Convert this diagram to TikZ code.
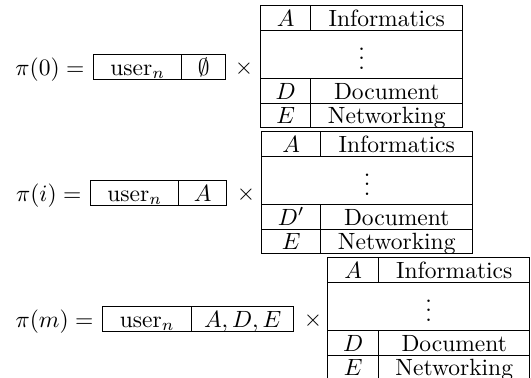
\documentclass[tikz,border=0pt]{standalone}
\newcommand{\pxu}{0.4255}
\newcommand{\proftable}[6]{%
  \pgfmathsetmacro{\tabwa}{(#3-#2)*\pxu}%
  \pgfmathsetmacro{\tabwb}{(#4-#3)*\pxu}%
  \pgfmathsetmacro{\tabwt}{(#4-#2)*\pxu}%
  \node[cell, minimum width=\tabwa pt, minimum height=25*\pxu pt] (#1Ak) at (#2,#5) {$A$};
  \node[cell, minimum width=\tabwb pt, minimum height=25*\pxu pt] (#1Av) at (#3,#5) {Informatics};
  \node[cell, minimum width=\tabwt pt, minimum height=48*\pxu pt,
        text height=12.4pt, text depth=0pt] (#1dots) at (#2,{#5+25}) {$\vdots$};
  \node[cell, minimum width=\tabwa pt, minimum height=25*\pxu pt] (#1Dk) at (#2,{#5+73}) {$#6$};
  \node[cell, minimum width=\tabwb pt, minimum height=25*\pxu pt] (#1Dv) at (#3,{#5+73}) {Document};
  \node[cell, minimum width=\tabwa pt, minimum height=24*\pxu pt] (#1Ek) at (#2,{#5+98}) {$E$};
  \node[cell, minimum width=\tabwb pt, minimum height=24*\pxu pt] (#1Ev) at (#3,{#5+98}) {Networking};
}
\begin{document}
\begin{tikzpicture}[x=\pxu pt, y=-\pxu pt,
  cell/.style={draw, line width=0.62pt, inner sep=0pt, anchor=north west,
               text height=6.8pt, text depth=0pt},
  txt/.style={inner sep=0pt, text height=6.8pt, text depth=0pt}]
\useasboundingbox (0,0) rectangle (531,378);
\clip (0,0) rectangle (531,378);

% row 1
\node[cell, minimum width=88*\pxu pt, minimum height=25*\pxu pt] (u0) at (93,54) {$\mathrm{user}_n$};
\node[cell, minimum width=44*\pxu pt, minimum height=25*\pxu pt] (s0) at (181,54) {$\emptyset$};
\node[txt, anchor=east] (p0) at ([xshift=-8*\pxu pt]u0.west) {$\pi(0)=$};
\node[txt] (x0) at (244,66.5) {$\times$};
\proftable{t0}{260}{310}{462}{5}{D}

% row 2
\node[cell, minimum width=88*\pxu pt, minimum height=25*\pxu pt] (u1) at (90,180) {$\mathrm{user}_n$};
\node[cell, minimum width=48*\pxu pt, minimum height=25*\pxu pt] (s1) at (178,180) {$A$};
\node[txt, anchor=east] (p1) at ([xshift=-8*\pxu pt]u1.west) {$\pi(i)=$};
\node[txt] (x1) at (246,192.5) {$\times$};
\proftable{t1}{261}{320}{472}{131}{D'}

% row 3
\node[cell, minimum width=89*\pxu pt, minimum height=25*\pxu pt] (u2) at (102,306) {$\mathrm{user}_n$};
\node[cell, minimum width=102*\pxu pt, minimum height=25*\pxu pt] (s2) at (191,306) {$A,D,E$};
\node[txt, anchor=east] (p2) at ([xshift=-8*\pxu pt]u2.west) {$\pi(m)=$};
\node[txt] (x2) at (313,318.5) {$\times$};
\proftable{t2}{327}{378}{529}{257}{D}
\end{tikzpicture}
\end{document}
